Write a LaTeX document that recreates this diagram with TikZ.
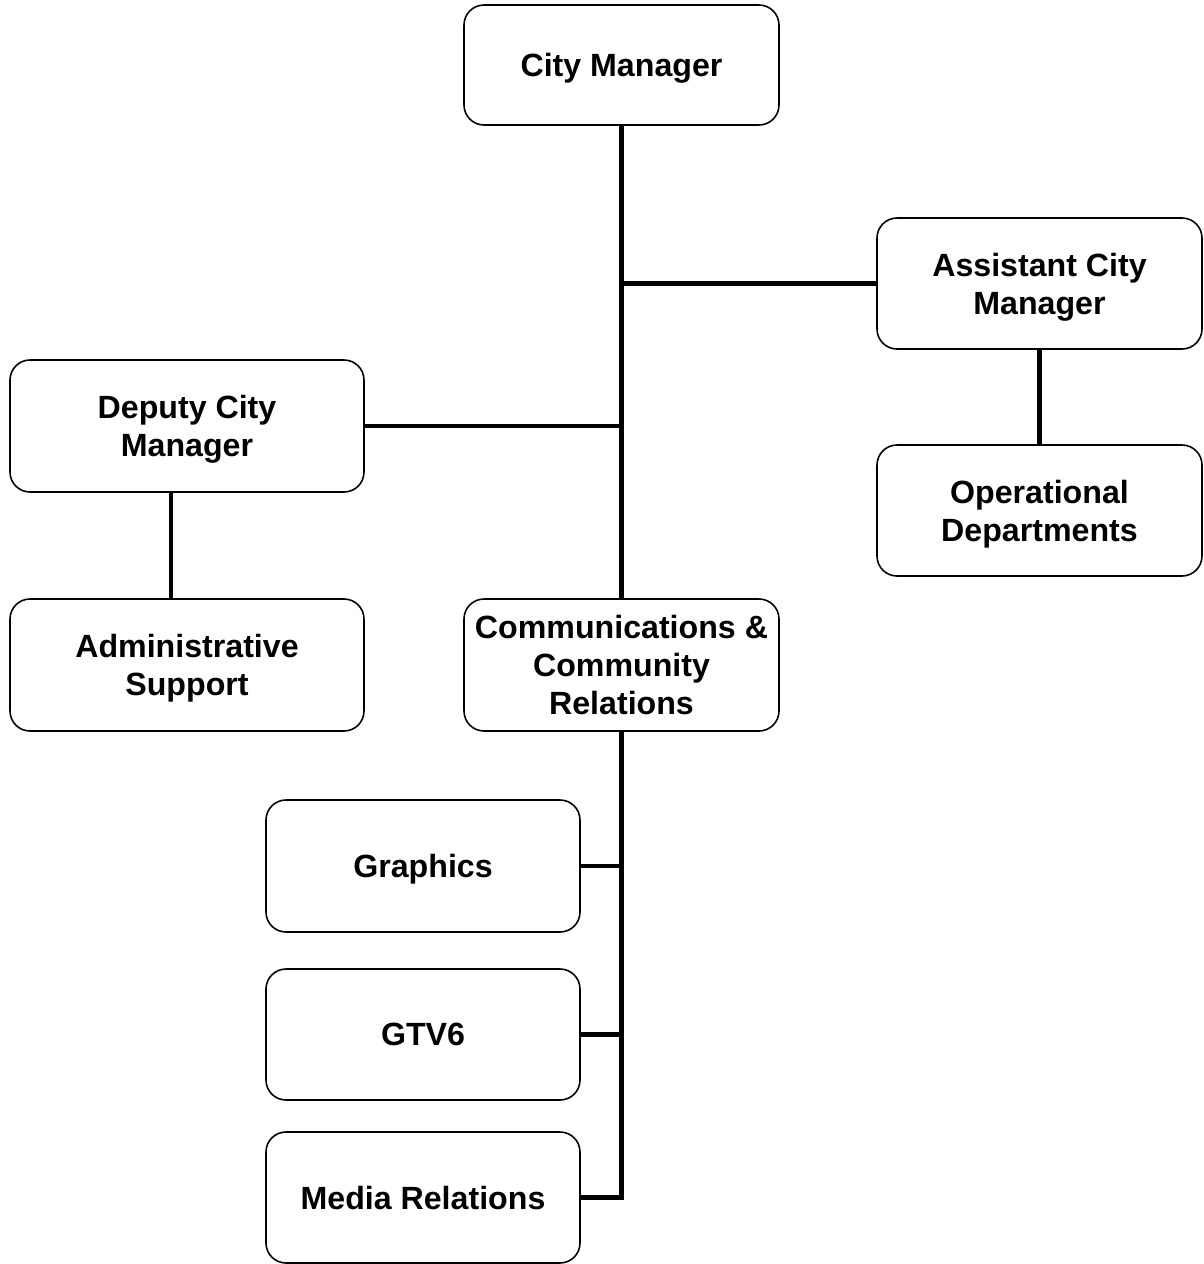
\documentclass[tikz,border=0pt]{standalone}
\usepackage{fontspec}
\setmainfont{Liberation Sans}
\usepackage{tikz}
\usetikzlibrary{positioning}

\begin{document}
\begin{tikzpicture}[
  unit/.style={rectangle, rounded corners=0.4cm, draw, line width=0.9pt, fill=white, align=center, font=\fontsize{18.3}{21.6}\selectfont\bfseries, inner sep=2pt, text depth=-1.8pt},
  wide/.style={unit, minimum width=6.3cm, minimum height=2.62cm},
  link/.style={line width=2.3pt}
]
\useasboundingbox (0,0) rectangle (24.06,-25.28);

% Top
\node[wide, minimum height=2.4cm] (cm) at (12.43,-1.30) {City Manager};

% Right branch
\node[wide, minimum width=6.5cm] (acm) at (20.79,-5.67) {Assistant City\\Manager};
\node[wide, minimum width=6.5cm] (ops) at (20.79,-10.21) {Operational\\Departments};

% Left branch
\node[wide, minimum width=7.08cm, minimum height=2.64cm] (dcm) at (3.74,-8.52) {Deputy City\\Manager};
\node[wide, minimum width=7.08cm, minimum height=2.64cm] (adm) at (3.74,-13.30) {Administrative\\Support};

% Communications
\node[wide, minimum height=2.64cm] (ccr) at (12.43,-13.30) {Communications \&\\Community\\Relations};
\node[wide, minimum width=6.28cm, minimum height=2.64cm] (gfx) at (8.46,-17.32) {Graphics};
\node[wide, minimum width=6.28cm] (gtv) at (8.46,-20.69) {GTV6};
\node[wide, minimum width=6.28cm] (med) at (8.46,-23.95) {Media Relations};

% Lines
\draw[link] (cm.south) -- (ccr.north);
\draw[link] (acm.west) -- (acm.west -| cm.south);
\draw[link] (dcm.east) -- (dcm.east -| cm.south);
\draw[link] (acm.south) -- (ops.north);
\draw[link] ([xshift=-0.32cm]dcm.south) -- ([xshift=-0.32cm]adm.north);

\draw[link] (ccr.south) -- (ccr.south |- med.east) -- (med.east);
\draw[link] (gfx.east) -- (gfx.east -| ccr.south);
\draw[link] (gtv.east) -- (gtv.east -| ccr.south);

\end{tikzpicture}
\end{document}
